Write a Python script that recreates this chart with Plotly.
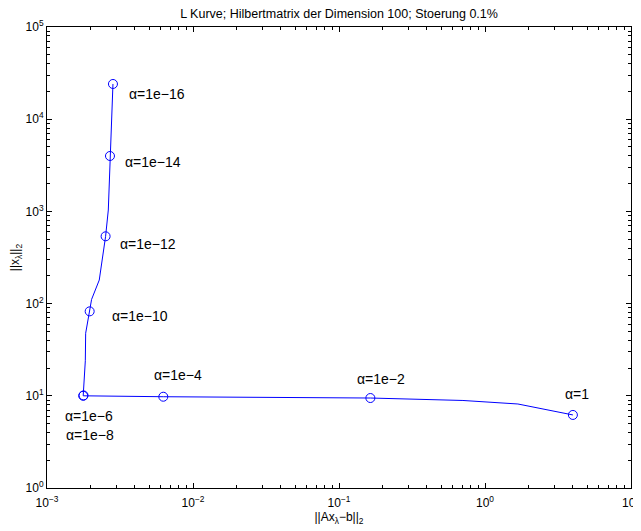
import numpy as np
import plotly.graph_objects as go

# L-curve vertices (residual norm, solution norm), from alpha=1e-16 down to alpha=1
line_res = [2.83e-3, 2.76e-3, 2.70e-3, 2.63e-3, 2.52e-3, 2.28e-3, 2.02e-3, 1.96e-3,
            1.84e-3, 1.83e-3, 1.78e-3, 1.77e-3, 6.26e-3, 0.164, 0.706, 1.68, 4.0]
line_norm = [24100, 8300, 3990, 1035, 537, 180, 111, 82.4,
             47.7, 24.0, 10.1, 10.0, 9.77, 9.46, 8.9, 8.15, 6.2]

# marked regularisation parameters
mark_labels = ["α=1e−16", "α=1e−14", "α=1e−12", "α=1e−10", "α=1e−8", "α=1e−6",
               "α=1e−4", "α=1e−2", "α=1"]
mark_res = [2.83e-3, 2.70e-3, 2.52e-3, 1.96e-3, 1.78e-3, 1.77e-3, 6.26e-3, 0.164, 4.0]
mark_norm = [24100, 3990, 537, 82.4, 10.1, 10.0, 9.77, 9.46, 6.2]

# label offsets in screen pixels (x right, y down) and anchors
label_dx = [14, 13, 12, 20, 6, 6, 15, 11, 4]
label_dy = [10, 6, 8, 5, 40, 20, -22, -19, -21]
label_anchor = ["left", "left", "left", "left", "center", "center", "center", "center", "center"]

# axis ticks
x_exps = [-3, -2, -1, 0, 1]
y_exps = [0, 1, 2, 3, 4, 5]

title = "L Kurve; Hilbertmatrix der Dimension 100; Stoerung 0.1%"
x_title = "||Ax<sub>λ</sub>−b||<sub>2</sub>"
y_title = "||x<sub>λ</sub>||<sub>2</sub>"

blue = "#0000FF"
font = "Liberation Sans, Arial, Helvetica, sans-serif"

# the page body adds an 8px offset; compensate in the margins
OFF = 8
W, H = 641, 531
L, R, T, B = 47 - OFF, 10 + OFF, 27 - OFF, 43 + OFF


def tick_text(e):
    return "10<sup>%s</sup>" % (str(e).replace("-", "−"))


def minor_vals(exps):
    return [m * 10.0 ** e for e in exps[:-1] for m in range(2, 10)]


fig = go.Figure()
fig.add_trace(go.Scatter(x=line_res, y=line_norm, mode="lines",
                         line=dict(color=blue, width=1), showlegend=False,
                         hoverinfo="skip"))
fig.add_trace(go.Scatter(x=mark_res, y=mark_norm, mode="markers",
                         marker=dict(symbol="circle-open", size=9, color=blue,
                                     line=dict(width=1, color=blue)),
                         showlegend=False))

for lab, xr, yn, dx, dy, anc in zip(mark_labels, mark_res, mark_norm,
                                     label_dx, label_dy, label_anchor):
    fig.add_annotation(x=np.log10(xr), y=np.log10(yn), text=lab, showarrow=False,
                       xanchor=anc, yanchor="middle", xshift=dx, yshift=-dy,
                       font=dict(family=font, size=14, color="black"))

axis_common = dict(type="log", showgrid=False, automargin=False,
                   zeroline=False, showline=True, linecolor="black", linewidth=1,
                   mirror="ticks", ticks="inside", ticklen=5, tickcolor="black",
                   tickfont=dict(family=font, size=12, color="black"))

fig.update_xaxes(range=[-3, 1],
                 tickvals=[10.0 ** e for e in x_exps],
                 ticktext=[tick_text(e) for e in x_exps],
                 ticklabelstandoff=4,
                 minor=dict(tickvals=minor_vals(x_exps), ticks="inside", ticklen=3,
                            tickcolor="black", showgrid=False),
                 title=dict(text=x_title, standoff=2,
                            font=dict(family=font, size=12, color="black")),
                 **axis_common)
fig.update_yaxes(range=[0, 5],
                 tickvals=[10.0 ** e for e in y_exps],
                 ticktext=[tick_text(e) for e in y_exps],
                 minor=dict(tickvals=minor_vals(y_exps), ticks="inside", ticklen=3,
                            tickcolor="black", showgrid=False),
                 title=dict(text=y_title, standoff=4,
                            font=dict(family=font, size=12, color="black")),
                 **axis_common)

fig.update_layout(
    width=W, height=H,
    margin=dict(l=L, r=R, t=T, b=B),
    paper_bgcolor="white", plot_bgcolor="white",
    title=dict(text=title, x=(L + (W - R)) / 2 / W, xanchor="center",
               y=1 - (13 - OFF + 1) / H, yanchor="middle",
               font=dict(family=font, size=12.5, color="black")),
    font=dict(family=font, size=12, color="black"),
)

fig.write_html("out.html")
